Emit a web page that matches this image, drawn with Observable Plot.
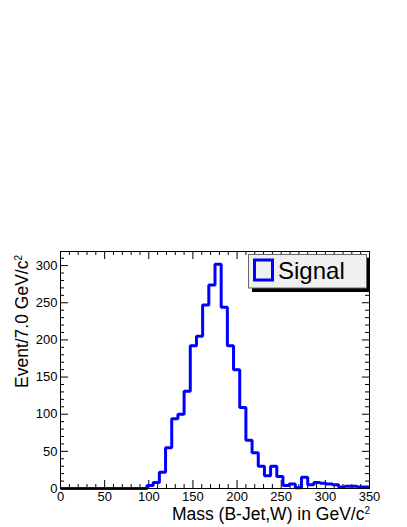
<!DOCTYPE html>
<html><head><meta charset="utf-8">
<script src="https://cdn.jsdelivr.net/npm/d3@7"></script>
<script src="https://cdn.jsdelivr.net/npm/@observablehq/plot@0.6"></script>
<style>body{margin:0;background:#fff;} #wrap{width:407px;height:527px;}</style>
</head><body><div id="wrap"></div>
<script>
// Histogram: Mass (B-Jet,W), 50 bins of 7 GeV from 0 to 350
const binWidth = 7;
const counts = [
  0,0,0,0,0,0,0,0,0,0,
  0,0,0,0,4,8,22,55,94,100,
  131,192,205,247,274,302,244,192,160,109,
  65,48,30,17,30,16,4,6,1,15,
  5,8,7,6,5,2,3,3,2,2
];
const xMajor = [0,50,100,150,200,250,300,350];
const yMajor = [0,50,100,150,200,250,300];
const xMinor = d3.range(0, 351, 10).filter(v => v % 50 !== 0);
const yMinor = d3.range(0, 319, 10).filter(v => v % 50 !== 0);
const xTitle = "Mass (B-Jet,W) in GeV/c";
const yTitle = "Event/7.0 GeV/c";
const legendLabel = "Signal";

const W = 407, H = 527, mL = 60, mR = 38, mT = 251, mB = 39;
const fw = W - mL - mR, fh = H - mT - mB;

const pts = counts.map((c, i) => ({x: i * binWidth, y: c}));
pts.push({x: counts.length * binWidth, y: counts[counts.length - 1]});

const font = "'Liberation Sans', Arial, Helvetica, sans-serif";

const chart = Plot.plot({
  width: W, height: H,
  marginLeft: mL, marginRight: mR, marginTop: mT, marginBottom: mB,
  style: {fontFamily: font, fontSize: "13px", background: "white", color: "black"},
  x: {domain: [0, 350]},
  y: {domain: [0, 319]},
  marks: [
    // inward ticks: bottom / top
    Plot.tickX(xMajor, {x: d => d, insetTop: fh - 8, stroke: "black"}),
    Plot.tickX(xMinor, {x: d => d, insetTop: fh - 4, stroke: "black"}),
    Plot.tickX(xMajor, {x: d => d, insetBottom: fh - 8, stroke: "black"}),
    Plot.tickX(xMinor, {x: d => d, insetBottom: fh - 4, stroke: "black"}),
    // inward ticks: left / right
    Plot.tickY(yMajor, {y: d => d, insetRight: fw - 8, stroke: "black"}),
    Plot.tickY(yMinor, {y: d => d, insetRight: fw - 4, stroke: "black"}),
    Plot.tickY(yMajor, {y: d => d, insetLeft: fw - 7, stroke: "black"}),
    Plot.tickY(yMinor, {y: d => d, insetLeft: fw - 4, stroke: "black"}),
    Plot.line(pts, {x: "x", y: "y", curve: "step-after", stroke: "#0000ff", strokeWidth: 3,
      strokeLinejoin: "miter", strokeLinecap: "butt"}),
    Plot.frame({stroke: "black"}),
    Plot.axisX(xMajor, {tickSize: 0, tickPadding: 3, label: null, fontSize: 13}),
    Plot.axisY(yMajor, {tickSize: 0, tickPadding: 3, label: null, fontSize: 13})
  ]
});
document.getElementById("wrap").appendChild(chart);

const svg = d3.select(chart);
// X title
const xt = svg.append("text")
  .attr("x", mL + fw + 1).attr("y", 520)
  .attr("text-anchor", "end").attr("font-size", 17.5).attr("font-family", font).attr("fill", "black");
xt.append("tspan").text(xTitle);
xt.append("tspan").attr("dy", -6).attr("font-size", 10).text("2");
// Y title
const yt = svg.append("text")
  .attr("transform", `translate(28,${mT + 4}) rotate(-90)`)
  .attr("text-anchor", "end").attr("font-size", 17.5).attr("font-family", font).attr("fill", "black");
yt.append("tspan").text(yTitle);
yt.append("tspan").attr("dy", -6).attr("font-size", 10).text("2");
// Legend
const lg = svg.append("g");
lg.append("rect").attr("x", 252).attr("y", 258).attr("width", 117).attr("height", 34).attr("fill", "black");
lg.append("rect").attr("x", 248.5).attr("y", 254.5).attr("width", 118).attr("height", 33.5)
  .attr("fill", "#f0f0f0").attr("stroke", "#666").attr("stroke-width", 1);
lg.append("rect").attr("x", 254.5).attr("y", 260).attr("width", 18).attr("height", 20)
  .attr("fill", "none").attr("stroke", "#0000ff").attr("stroke-width", 3);
lg.append("text").attr("x", 278).attr("y", 278.5).attr("text-anchor", "start")
  .attr("font-size", 24).attr("font-family", font).attr("fill", "black").text(legendLabel);
</script>
</body></html>
